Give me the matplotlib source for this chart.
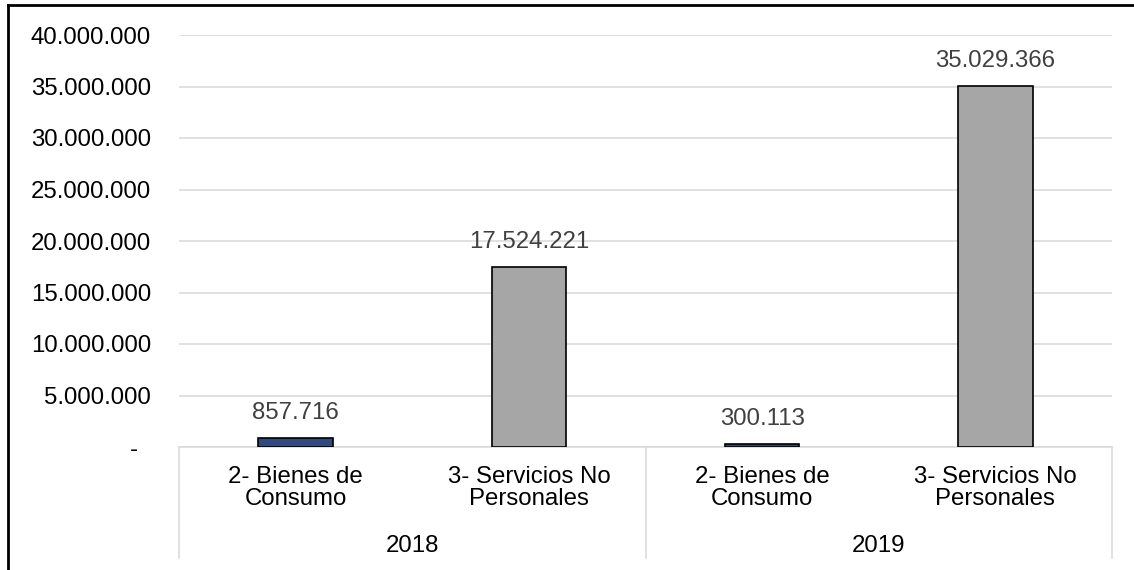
import matplotlib
matplotlib.use("Agg")
import matplotlib.pyplot as plt
from matplotlib.lines import Line2D
from matplotlib.ticker import FuncFormatter

plt.rcParams['font.family'] = ['Liberation Sans', 'DejaVu Sans']

years = ["2018", "2019"]
categories = ["2- Bienes de\nConsumo", "3- Servicios No\nPersonales"]
values = [857716, 17524221, 300113, 35029366]
bar_colors = ["#2F4A80", "#A6A6A6", "#2F4A80", "#A6A6A6"]
yticks = [0, 5000000, 10000000, 15000000, 20000000, 25000000, 30000000, 35000000, 40000000]

W, H = 1134, 570
fig = plt.figure(figsize=(W / 100, H / 100), dpi=100)
ax = fig.add_axes([179 / W, 1 - 447 / H, (1112 - 179) / W, (447 - 35) / H])

n = len(values)
xs = list(range(n))
ax.bar(xs, values, width=0.32, color=bar_colors, edgecolor="black", linewidth=1.2, zorder=3)

def fmt(v):
    return f"{int(v):,}".replace(",", ".")

for x, v in zip(xs, values):
    ax.annotate(fmt(v), (x, v), xytext=(0, 10), textcoords="offset points",
                ha="center", va="bottom", fontsize=17.3, color="#404040")

ax.set_xlim(-0.5, n - 0.5)
ax.set_ylim(0, 40000000)
ax.set_yticks(yticks)
ax.yaxis.set_major_formatter(FuncFormatter(lambda v, p: "-  " if v == 0 else fmt(v)))
ax.tick_params(axis="y", length=0, pad=20, labelsize=17.3, labelcolor="black")
ax.grid(axis="y", color="#D9D9D9", linewidth=1.1, zorder=0)
for s in ["top", "right", "left"]:
    ax.spines[s].set_visible(False)
ax.spines["bottom"].set_color("#D9D9D9")
ax.spines["bottom"].set_linewidth(1.1)

ax.set_xticks(xs)
ax.set_xticklabels([categories[i % 2] for i in xs], fontsize=17.3, linespacing=1.0)
ax.tick_params(axis="x", length=0, pad=14)

xt = ax.get_xaxis_transform()
for i, y in enumerate(years):
    ax.text(2 * i + 0.5, -0.24, y, transform=xt, ha="center", va="center", fontsize=17.3)
for xv in [-0.5, 1.5, 3.5]:
    ax.plot([xv, xv], [0, -0.27], transform=xt, color="#D9D9D9", linewidth=1.1, clip_on=False)

# outer frame (left and top edges)
fig.add_artist(Line2D([8 / W, 8 / W], [0, 1 - 5 / H], color="black", linewidth=2))
fig.add_artist(Line2D([8 / W, 1], [1 - 5 / H, 1 - 5 / H], color="black", linewidth=2))

fig.savefig("out.png", dpi=100, facecolor="white")
